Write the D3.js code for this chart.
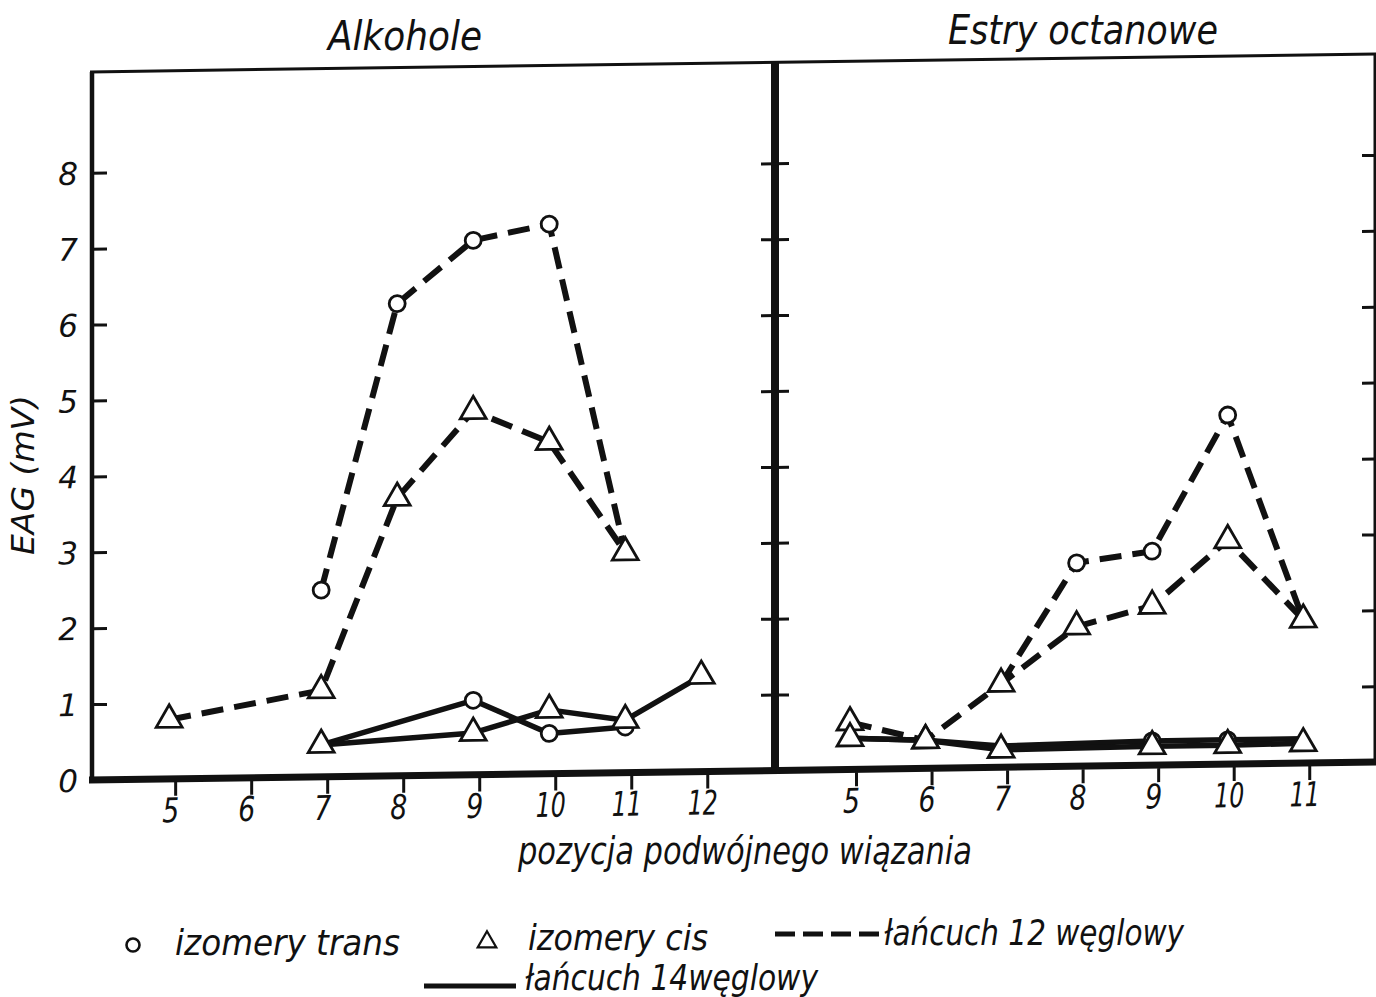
<!DOCTYPE html>
<html lang="pl">
<head>
<meta charset="UTF-8">
<title>EAG</title>
<script src="https://cdn.jsdelivr.net/npm/d3@7"></script>
<style>
  body{margin:0;background:#fff;}
  text{font-family:"Liberation Sans Narrow","DejaVu Sans Condensed",sans-serif;font-style:italic;fill:#111;}
  .tick line{stroke:#111;stroke-width:3px;}
  .frame{stroke:#111;fill:none;}
</style>
</head>
<body>
<div id="container"></div>
<script>
// values
const yTicks = [0,1,2,3,4,5,6,7,8];
const alkTicks = [5,6,7,8,9,10,11,12];
const estTicks = [5,6,7,8,9,10,11];

// Alkohole
const alkTrans12X = [7,8,9,10,11];
const alkTrans12Y = [2.46,6.22,7.04,7.24,2.9];
const alkCis12X = [5,7,8,9,10,11];
const alkCis12Y = [0.78,1.14,3.66,4.79,4.37,2.9];
const alkTrans14X = [7,9,10,11];
const alkTrans14Y = [0.42,0.98,0.53,0.60];
const alkCis14X = [7,9,10,11,12];
const alkCis14Y = [0.42,0.55,0.84,0.69,1.26];

// Estry octanowe
const estTrans12X = [7,8,9,10,11];
const estTrans12Y = [1.10,2.68,2.82,4.60,1.89];
const estCis12X = [5,6,7,8,9,10,11];
const estCis12Y = [0.62,0.37,1.10,1.84,2.10,2.95,1.89];
const estTrans14X = [5,6,7,9,10,11];
const estTrans14Y = [0.41,0.37,0.28,0.32,0.32,0.32];
const estCis14X = [5,6,7,9,10,11];
const estCis14Y = [0.41,0.37,0.23,0.25,0.25,0.26];

const W = 1376, H = 997;
const svg = d3.select("#container").append("svg")
    .attr("width", W).attr("height", H);

const base = 781.3, unit = 75.9, yMax = 9.33;
const y = d3.scaleLinear().domain([0, yMax]).range([base, base - yMax*unit]);
const xAlk = d3.scaleLinear().domain([3.985, 12.97]).range([92, 775]);
const xEst = d3.scaleLinear().domain([4.007, 11.95]).range([775, 1375]);

// the scan is slightly sheared, so the plot area is skewed a little
const g = svg.append("g").attr("transform", "skewY(-0.8)");

const frameTop = y(yMax);
g.append("line").attr("class","frame").attr("x1",90).attr("x2",1376).attr("y1",frameTop).attr("y2",frameTop).attr("stroke-width",3);
g.append("line").attr("class","frame").attr("x1",92).attr("x2",92).attr("y1",frameTop).attr("y2",base).attr("stroke-width",4.5);
g.append("line").attr("class","frame").attr("x1",775).attr("x2",775).attr("y1",frameTop).attr("y2",base).attr("stroke-width",8);
g.append("line").attr("class","frame").attr("x1",1375).attr("x2",1375).attr("y1",frameTop).attr("y2",base).attr("stroke-width",3);
g.append("line").attr("class","frame").attr("x1",89).attr("x2",1376).attr("y1",base).attr("y2",base).attr("stroke-width",7);

// y ticks
const inner = yTicks.slice(1);
g.append("g").attr("transform","translate(92,0)")
  .call(d3.axisRight(y).tickValues(inner).tickSize(15).tickFormat(""))
  .call(s => s.select(".domain").remove());
g.append("g").attr("transform","translate(92,0)")
  .call(d3.axisLeft(y).tickValues(yTicks).tickSize(0).tickPadding(14))
  .call(s => s.select(".domain").remove())
  .selectAll("text").style("font-family","'DejaVu Sans'").style("font-size","31px").attr("dy","0.36em");
g.append("g").attr("transform","translate(775,0)")
  .call(d3.axisLeft(y).tickValues(inner).tickSize(14).tickFormat(""))
  .call(s => s.select(".domain").remove());
g.append("g").attr("transform","translate(775,0)")
  .call(d3.axisRight(y).tickValues(inner).tickSize(14).tickFormat(""))
  .call(s => s.select(".domain").remove());
g.append("g").attr("transform","translate(1375,0)")
  .call(d3.axisLeft(y).tickValues(inner).tickSize(13).tickFormat(""))
  .call(s => s.select(".domain").remove());

// x ticks
function xAxis(scale, ticks){
  const a = g.append("g").attr("transform",`translate(6,${base+3})`)
    .call(d3.axisBottom(scale).tickValues(ticks).tickSize(14).tickPadding(2))
    .call(s => s.select(".domain").remove());
  a.selectAll("text").style("font-size","34px").attr("dx","-5")
    .attr("textLength", d => d >= 10 ? 30 : 17).attr("lengthAdjust","spacingAndGlyphs");
}
xAxis(xAlk, alkTicks);
xAxis(xEst, estTicks);

// series
const series = [
  {x:xAlk, xs:alkTrans12X, ys:alkTrans12Y, dash:true,  mark:"circle"},
  {x:xAlk, xs:alkCis12X,   ys:alkCis12Y,   dash:true,  mark:"tri"},
  {x:xAlk, xs:alkTrans14X, ys:alkTrans14Y, dash:false, mark:"circle"},
  {x:xAlk, xs:alkCis14X,   ys:alkCis14Y,   dash:false, mark:"tri"},
  {x:xEst, xs:estTrans12X, ys:estTrans12Y, dash:true,  mark:"circle"},
  {x:xEst, xs:estCis12X,   ys:estCis12Y,   dash:true,  mark:"tri"},
  {x:xEst, xs:estTrans14X, ys:estTrans14Y, dash:false, mark:"circle"},
  {x:xEst, xs:estCis14X,   ys:estCis14Y,   dash:false, mark:"tri"}
].map(s => ({...s, pts: s.xs.map((v,i) => [v, s.ys[i]])}));

const lines = g.append("g");
series.forEach(s => {
  const gen = d3.line().x(d => s.x(d[0])).y(d => y(d[1]));
  lines.append("path").datum(s.pts)
    .attr("d", gen).attr("fill","none").attr("stroke","#111")
    .attr("stroke-width", s.dash ? 6 : 5.5).attr("stroke-linejoin","round")
    .attr("stroke-dasharray", s.dash ? "22,11" : null);
});

// circles hidden where a triangle sits on the same spot
const tris = series.filter(s => s.mark === "tri");
function covered(s, d){
  return tris.some(t => t.x === s.x && t.pts.some(p => p[0] === d[0] && Math.abs(p[1]-d[1]) < 0.07));
}
const marks = g.append("g");
series.filter(s => s.mark === "circle").forEach(s => {
  marks.selectAll(null).data(s.pts.filter(d => !covered(s, d))).enter().append("circle")
    .attr("cx", d => s.x(d[0])).attr("cy", d => y(d[1])).attr("r",8)
    .attr("fill","#fff").attr("stroke","#111").attr("stroke-width",2.8);
});
const triSym = d3.symbol(d3.symbolTriangle, 290);
tris.forEach(s => {
  marks.selectAll(null).data(s.pts).enter().append("path")
    .attr("d", triSym)
    .attr("transform", d => `translate(${s.x(d[0])},${y(d[1])})`)
    .attr("fill","#fff").attr("stroke","#111").attr("stroke-width",2.8);
});

// titles and labels
svg.append("text").attr("x",328).attr("y",50).attr("textLength",154).attr("lengthAdjust","spacingAndGlyphs")
  .style("font-size","40px").text("Alkohole");
svg.append("text").attr("x",948).attr("y",44).attr("textLength",270).attr("lengthAdjust","spacingAndGlyphs")
  .style("font-size","40px").text("Estry octanowe");
svg.append("text").attr("x",518).attr("y",864).attr("textLength",454).attr("lengthAdjust","spacingAndGlyphs")
  .style("font-size","37px").text("pozycja podwójnego wiązania");
svg.append("text").attr("transform","translate(34,555) rotate(-90)").attr("textLength",160).attr("lengthAdjust","spacingAndGlyphs")
  .style("font-size","32px").text("EAG (mV)");

// legend
const lg = svg.append("g");
lg.append("circle").attr("cx",133).attr("cy",945).attr("r",6.5).attr("fill","#fff").attr("stroke","#111").attr("stroke-width",2.6);
lg.append("text").attr("x",175).attr("y",955).attr("textLength",225).attr("lengthAdjust","spacingAndGlyphs")
  .style("font-size","36px").text("izomery trans");
lg.append("path").attr("d", d3.symbol(d3.symbolTriangle, 150)).attr("transform","translate(487,942)")
  .attr("fill","#fff").attr("stroke","#111").attr("stroke-width",2.2);
lg.append("text").attr("x",528).attr("y",950).attr("textLength",180).attr("lengthAdjust","spacingAndGlyphs")
  .style("font-size","36px").text("izomery cis");
lg.append("line").attr("x1",775).attr("x2",882).attr("y1",934).attr("y2",934)
  .attr("stroke","#111").attr("stroke-width",5).attr("stroke-dasharray","20,8");
lg.append("text").attr("x",884).attr("y",945).attr("textLength",300).attr("lengthAdjust","spacingAndGlyphs")
  .style("font-size","36px").text("łańcuch 12 węglowy");
lg.append("line").attr("x1",424).attr("x2",516).attr("y1",986).attr("y2",986)
  .attr("stroke","#111").attr("stroke-width",5);
lg.append("text").attr("x",525).attr("y",990).attr("textLength",293).attr("lengthAdjust","spacingAndGlyphs")
  .style("font-size","36px").text("łańcuch 14węglowy");
</script>
</body>
</html>
